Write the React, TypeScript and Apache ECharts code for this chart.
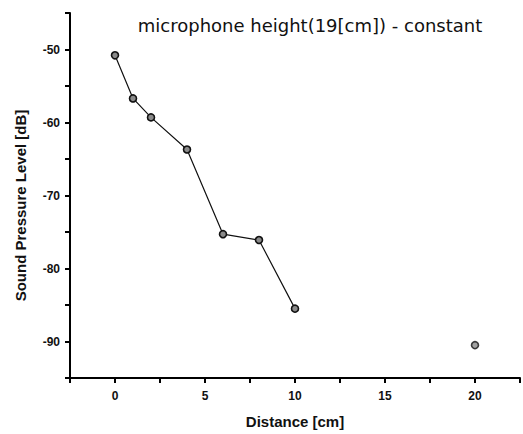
import React, { useEffect, useRef } from "react";
import * as echarts from "echarts";

const titleText = "microphone height(19[cm]) - constant";
const xName = "Distance [cm]";
const yName = "Sound Pressure Level [dB]";
const lineDistances = [0, 1, 2, 4, 6, 8, 10];
const lineLevels = [-50.8, -56.7, -59.3, -63.7, -75.3, -76.1, -85.5];
const isolatedDistances = [20];
const isolatedLevels = [-90.5];

export default function App() {
  const ref = useRef<HTMLDivElement>(null);
  useEffect(() => {
    if (!ref.current) return;
    const chart = echarts.init(ref.current, null, { renderer: "svg" });
    const marker = {
      symbol: "circle",
      symbolSize: 7,
      itemStyle: { color: "#8a8a8a", borderColor: "#111", borderWidth: 1.6 },
    };
    chart.setOption({
      animation: false,
      backgroundColor: "#fff",
      title: {
        text: titleText,
        left: 305,
        top: 11,
        textAlign: "center",
        textStyle: {
          fontFamily: "DejaVu Sans",
          fontSize: 18,
          fontWeight: "normal",
          color: "#111",
        },
      },
      grid: { left: 70, right: 1, top: 13, bottom: 55 },
      xAxis: {
        type: "value",
        min: -2.5,
        max: 22.5,
        interval: 2.5,
        name: xName,
        nameLocation: "middle",
        nameGap: 36,
        nameTextStyle: {
          fontFamily: "Liberation Sans",
          fontSize: 15,
          fontWeight: "bold",
          color: "#111",
        },
        axisLine: { onZero: false, lineStyle: { color: "#000", width: 2 } },
        axisTick: { show: true, length: 5, lineStyle: { color: "#000", width: 2 } },
        axisLabel: {
          margin: 12,
          fontFamily: "Liberation Sans",
          fontSize: 12,
          fontWeight: "bold",
          color: "#111",
          formatter: (v: number) => (Math.abs(v % 5) < 1e-9 ? String(v) : ""),
        },
        splitLine: { show: false },
      },
      yAxis: {
        type: "value",
        min: -95,
        max: -45,
        interval: 5,
        name: yName,
        nameLocation: "middle",
        nameGap: 42,
        nameTextStyle: {
          fontFamily: "Liberation Sans",
          fontSize: 15,
          fontWeight: "bold",
          color: "#111",
          padding: [0, 20, 0, 0],
        },
        axisLine: { onZero: false, lineStyle: { color: "#000", width: 2 } },
        axisTick: { show: true, length: 5, lineStyle: { color: "#000", width: 2 } },
        axisLabel: {
          margin: 10,
          fontFamily: "Liberation Sans",
          fontSize: 12,
          fontWeight: "bold",
          color: "#111",
          formatter: (v: number) => (Math.abs(v % 10) < 1e-9 ? String(v) : ""),
        },
        splitLine: { show: false },
      },
      series: [
        {
          type: "line",
          data: lineDistances.map((d, i) => [d, lineLevels[i]]),
          lineStyle: { color: "#111", width: 1.2 },
          ...marker,
        },
        {
          type: "scatter",
          data: isolatedDistances.map((d, i) => [d, isolatedLevels[i]]),
          ...marker,
        },
      ],
    });
    return () => chart.dispose();
  }, []);
  return (
    <div
      ref={ref}
      style={{ position: "fixed", left: 0, top: 0, width: 523, height: 434 }}
    />
  );
}
